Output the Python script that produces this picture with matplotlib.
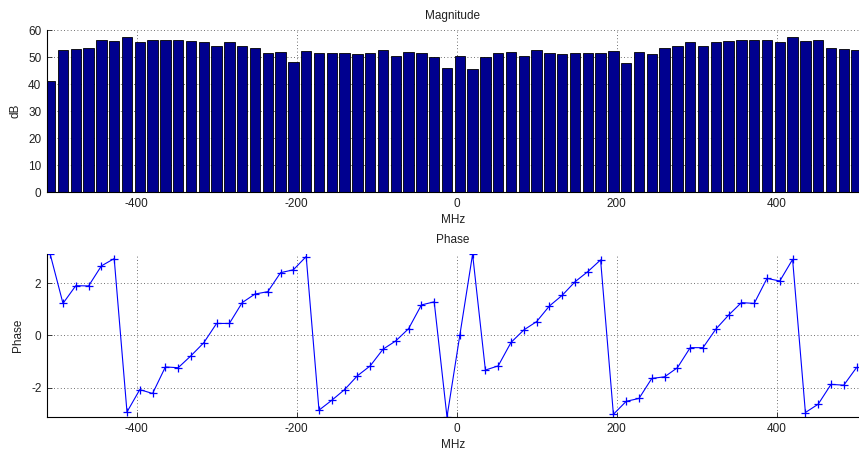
import matplotlib
matplotlib.use("Agg")
import matplotlib.pyplot as plt
import numpy as np

# frequency bins (MHz), 64 points spaced 16 MHz
freq = np.arange(64) * 16 - 508

magnitude_db = [
    41.3, 52.6, 53.0, 53.3, 56.5, 55.9, 57.3, 55.4, 56.2, 56.2, 56.2, 55.9, 55.4, 54.2, 55.4, 54.2,
    53.3, 51.4, 52.0, 48.2, 52.4, 51.6, 51.6, 51.6, 51.3, 51.6, 52.6, 50.5, 52.0, 51.4, 49.9, 46.0,
    50.5, 45.6, 49.9, 51.4, 52.0, 50.5, 52.6, 51.6, 51.3, 51.6, 51.6, 51.6, 52.4, 48.0, 52.0, 51.3,
    53.3, 54.1, 55.4, 54.1, 55.4, 55.9, 56.2, 56.2, 56.2, 55.4, 57.3, 55.9, 56.5, 53.3, 53.0, 52.6,
]

phase = [
    3.12, 1.23, 1.91, 1.90, 2.67, 2.95, -2.94, -2.08, -2.23, -1.21, -1.24, -0.78, -0.28, 0.46, 0.46, 1.26,
    1.59, 1.68, 2.41, 2.52, 3.03, -2.87, -2.49, -2.08, -1.55, -1.17, -0.53, -0.21, 0.26, 1.17, 1.29, -3.13,
    0.0, 3.12, -1.33, -1.17, -0.27, 0.21, 0.53, 1.13, 1.54, 2.06, 2.45, 2.90, -3.03, -2.53, -2.42, -1.65,
    -1.59, -1.24, -0.47, -0.47, 0.24, 0.78, 1.26, 1.23, 2.19, 2.09, 2.92, -2.96, -2.64, -1.88, -1.91, -1.23,
]

xticks = [-400, -200, 0, 200, 400]

plt.rcParams['font.family'] = ['Liberation Sans', 'DejaVu Sans']
plt.rcParams['font.size'] = 8.5
plt.rcParams['axes.unicode_minus'] = False

fig = plt.figure(figsize=(8.59, 4.55), dpi=100)
ax1 = fig.add_axes([0.0547, 0.577, 0.9453, 0.357])
ax2 = fig.add_axes([0.0547, 0.083, 0.9453, 0.3596])


def style(ax):
    ax.spines['top'].set_visible(False)
    ax.spines['right'].set_visible(False)
    ax.spines['left'].set_linewidth(0.8)
    ax.spines['bottom'].set_linewidth(0.8)
    ax.tick_params(direction='in', length=3.5, width=0.6, colors='#202020', labelsize=8.5, pad=4)
    ax.grid(True, linestyle=(0, (1, 3)), color='#404040', linewidth=0.6)
    ax.set_axisbelow(True)
    ax.set_xlim(-512, 503)
    ax.set_xticks(xticks)
    ax.set_xlabel('MHz', color='#202020', labelpad=3)


# magnitude
ax1.bar(freq, magnitude_db, width=12.8, color='#00008f', edgecolor='black', linewidth=0.6)
style(ax1)
ax1.set_ylim(0, 60)
ax1.set_yticks(range(0, 61, 10))
ax1.set_ylabel('dB', color='#202020', labelpad=5)
ax1.set_title('Magnitude', color='#202020', pad=8, fontsize=8.5)

# phase
ax2.plot(freq, phase, color='blue', linewidth=0.8, marker='+', markersize=6, markeredgewidth=0.9)
style(ax2)
ax2.set_ylim(-np.pi, np.pi)
ax2.set_yticks([-2, 0, 2])
ax2.set_ylabel('Phase', color='#202020', labelpad=5)
ax2.set_title('Phase', color='#202020', pad=8, fontsize=8.5)

fig.savefig('out.png', dpi=100)
